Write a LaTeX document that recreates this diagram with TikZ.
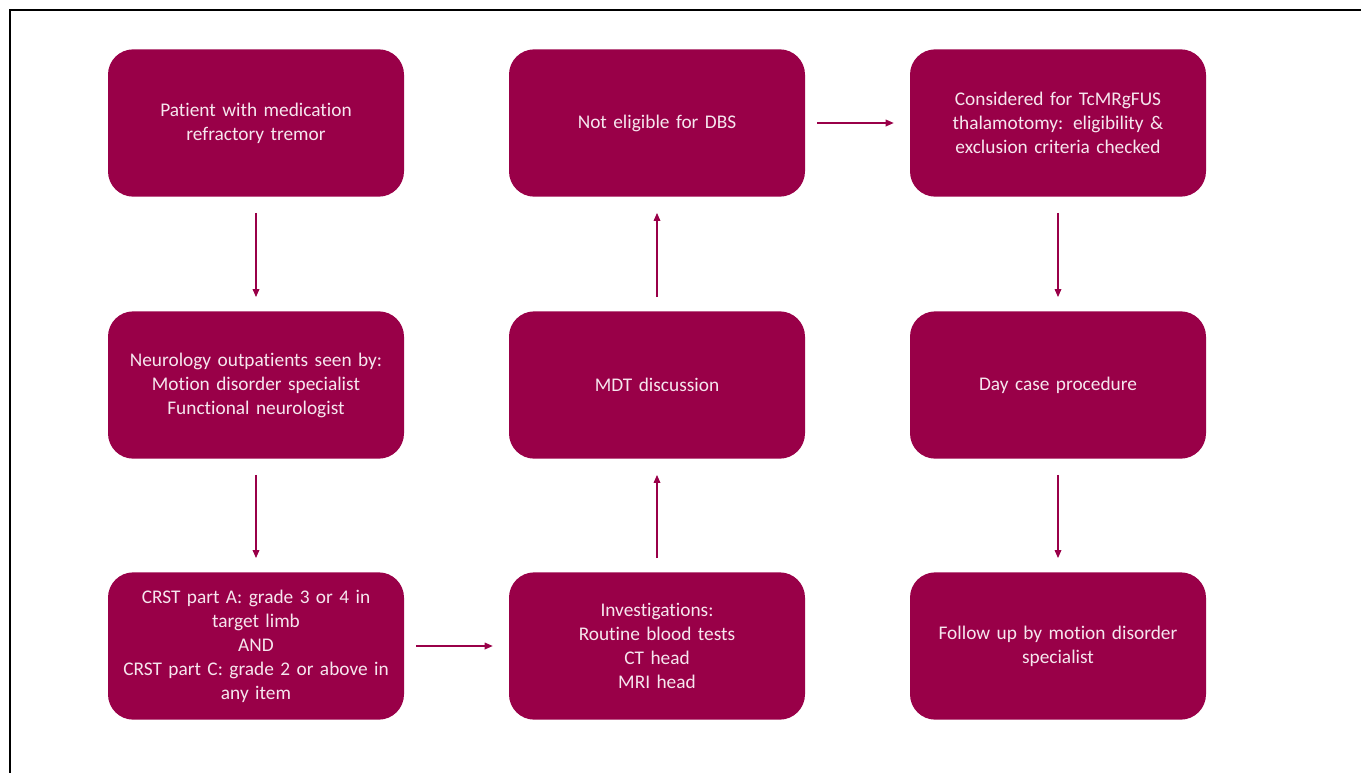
\documentclass[tikz,border=0pt]{standalone}
\usepackage{fontspec}
\setmainfont{Carlito}[Ligatures=CommonOff]
\usetikzlibrary{arrows.meta}
\definecolor{boxc}{HTML}{990048}
\definecolor{txtc}{HTML}{F6E6EE}
\tikzset{
  box/.style={fill=boxc, draw=none, rounded corners=19pt, minimum width=222pt, minimum height=110.5pt,
    text width=210pt, align=center, text=txtc, font=\fontsize{14.5pt}{18pt}\selectfont, inner sep=0pt},
  conn/.style={draw=boxc, line width=0.9pt, -{Triangle[length=6pt,width=5pt]}},
}
\begin{document}
\begin{tikzpicture}[x=0.75pt,y=-0.75pt]
\useasboundingbox (0,0) rectangle (1361,772);
\draw[line width=1.6pt] (10,773) -- (10,10) -- (1362,10);
\node[box] (a1) at (256,123) {Patient with medication\\refractory tremor};
\node[box] (a2) at (256,385) {Neurology outpatients seen by:\\Motion disorder specialist\\Functional neurologist};
\node[box] (a3) at (256,646) {CRST part A: grade 3 or 4 in\\target limb\\AND\\CRST part C: grade 2 or above in\\any item};
\node[box] (b3) at (657,646) {Investigations:\\Routine blood tests\\CT head\\MRI head};
\node[box] (b2) at (657,385) {MDT discussion};
\node[box] (b1) at (657,123) {Not eligible for DBS};
\node[box] (c1) at (1058,123) {Considered for TcMRgFUS\\thalamotomy: eligibility \&\\exclusion criteria checked};
\node[box] (c2) at (1058,385) {Day case procedure};
\node[box] (c3) at (1058,646) {Follow up by motion disorder\\specialist};
\draw[conn] ([yshift=-12pt]a1.south) -- ([yshift=10.5pt]a2.north);
\draw[conn] ([yshift=-12pt]a2.south) -- ([yshift=10.5pt]a3.north);
\draw[conn] ([xshift=9pt]a3.east) -- ([xshift=-12pt]b3.west);
\draw[conn] ([yshift=10.5pt]b3.north) -- ([yshift=-12pt]b2.south);
\draw[conn] ([yshift=10.5pt]b2.north) -- ([yshift=-12pt]b1.south);
\draw[conn] ([xshift=9pt]b1.east) -- ([xshift=-12pt]c1.west);
\draw[conn] ([yshift=-12pt]c1.south) -- ([yshift=10.5pt]c2.north);
\draw[conn] ([yshift=-12pt]c2.south) -- ([yshift=10.5pt]c3.north);
\end{tikzpicture}
\end{document}
